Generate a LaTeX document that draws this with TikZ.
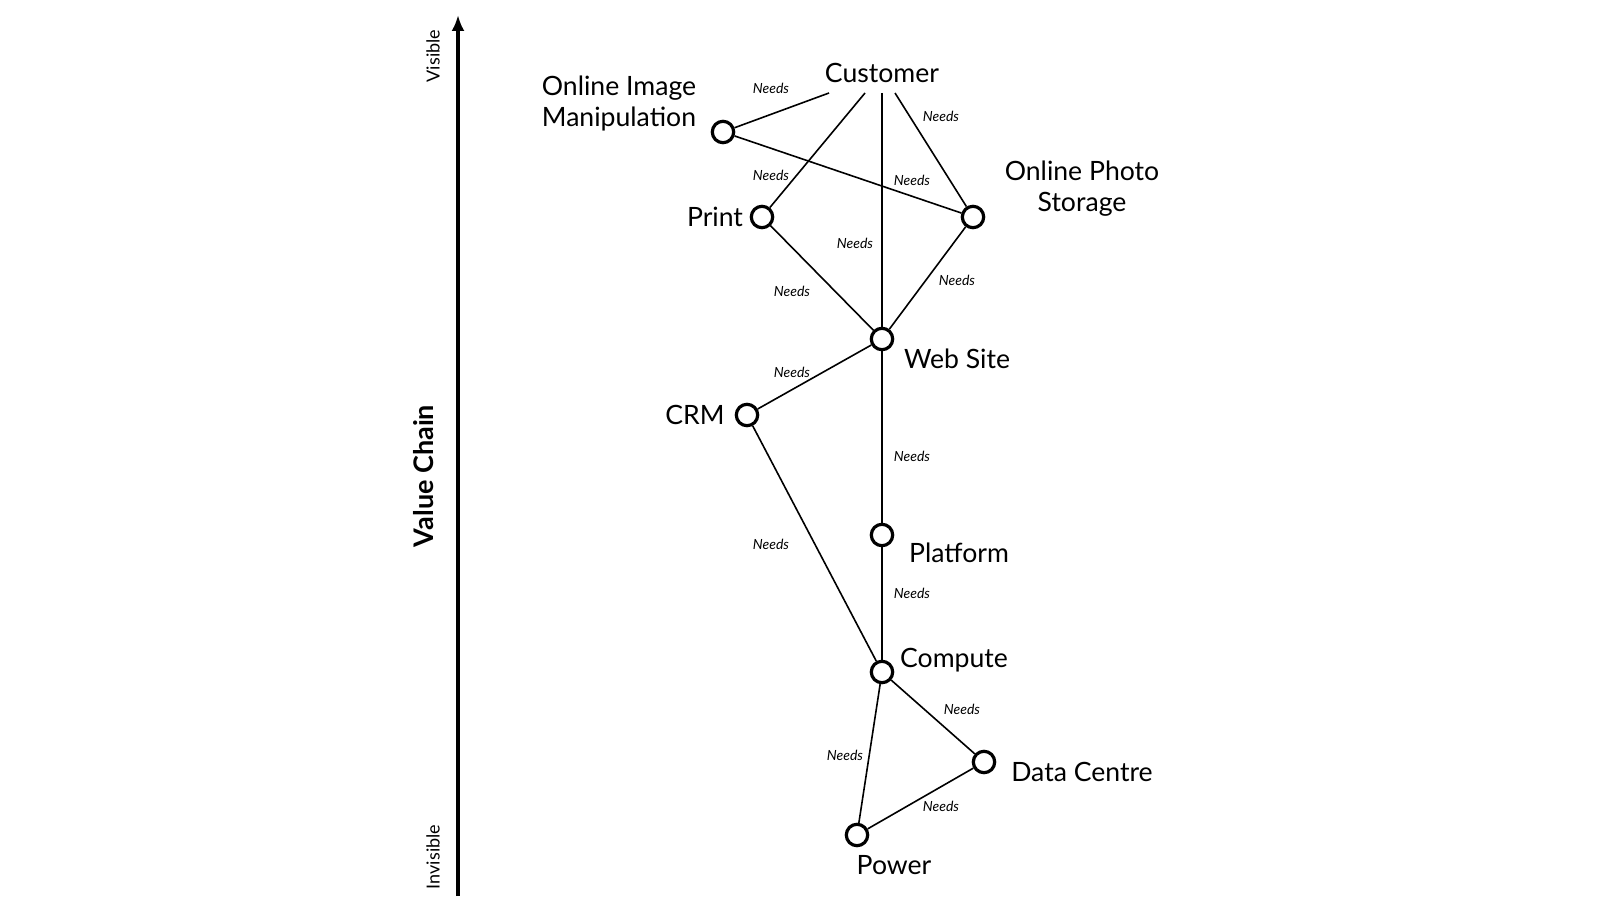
\documentclass[tikz,border=0pt]{standalone}
\usepackage{fontspec}
\setmainfont{Lato}
\usetikzlibrary{arrows.meta}
\begin{document}
\begin{tikzpicture}[x=0.5pt,y=-0.5pt,
  comp/.style={circle,draw,line width=1.6pt,fill=white,minimum size=10.7pt,inner sep=0pt},
  lbl/.style={font=\fontsize{13.3}{15.5}\selectfont,inner sep=0pt,align=center},
  needs/.style={font=\itshape\fontsize{7}{8}\selectfont,inner sep=0pt},
  link/.style={line width=0.8pt},
  axislbl/.style={font=\fontsize{9}{10}\selectfont,rotate=90,inner sep=0pt}]
\useasboundingbox (0,0) rectangle (1600,919);
% axis
\coordinate (axb) at (458,896);
\coordinate (axt) at (458,15);
\draw[line width=2pt,-{Latex[length=8pt,width=6.5pt]}] (axb) -- (axt);
\node[axislbl] (vis) at (433,56) {Visible};
\node[axislbl] (invis) at (433,857) {Invisible};
\node[axislbl,font=\bfseries\fontsize{13.5}{15}\selectfont] (vc) at (424,476) {Value Chain};
% components
\node[lbl] (cust) at (882,73) {Customer};
\node[comp] (oim) at (723,132) {};
\node[comp] (print) at (762,217) {};
\node[comp] (ops) at (973,217) {};
\node[comp] (web) at (882,339) {};
\node[comp] (crm) at (747,415) {};
\node[comp] (plat) at (882,535) {};
\node[comp] (comp) at (882,672) {};
\node[comp] (dc) at (984,762) {};
\node[comp] (pow) at (857,835) {};
% labels
\node[lbl] (loim) at (619,103) {Online Image\\Manipulation};
\node[lbl] (lprint) at (715,217) {Print};
\node[lbl] (lops) at (1082,189) {Online Photo\\Storage};
\node[lbl] (lweb) at (957,359) {Web Site};
\node[lbl] (lcrm) at (695,415) {CRM};
\node[lbl] (lplat) at (959,553) {Platform};
\node[lbl] (lcomp) at (954,660) {Compute};
\node[lbl] (ldc) at (1082,772) {Data Centre};
\node[lbl] (lpow) at (894,865) {Power};
% customer line starts
\coordinate (c1) at (829,93);
\coordinate (c2) at (865,93);
\coordinate (c3) at (882,93);
\coordinate (c4) at (895,93);
% links
\draw[link] (c1) -- (oim);
\draw[link] (c2) -- (print);
\draw[link] (c3) -- (web);
\draw[link] (c4) -- (ops);
\draw[link] (oim) -- (ops);
\draw[link] (print) -- (web);
\draw[link] (ops) -- (web);
\draw[link] (web) -- (crm);
\draw[link] (web) -- (plat);
\draw[link] (plat) -- (comp);
\draw[link] (crm) -- (comp);
\draw[link] (comp) -- (dc);
\draw[link] (comp) -- (pow);
\draw[link] (dc) -- (pow);
% needs labels
\node[needs] (n1) at (771,88) {Needs};
\node[needs] (n2) at (941,116) {Needs};
\node[needs] (n3) at (771,175) {Needs};
\node[needs] (n4) at (912,180) {Needs};
\node[needs] (n5) at (855,243) {Needs};
\node[needs] (n6) at (957,280) {Needs};
\node[needs] (n7) at (792,291) {Needs};
\node[needs] (n8) at (792,372) {Needs};
\node[needs] (n9) at (912,456) {Needs};
\node[needs] (n10) at (771,544) {Needs};
\node[needs] (n11) at (912,593) {Needs};
\node[needs] (n12) at (962,709) {Needs};
\node[needs] (n13) at (845,755) {Needs};
\node[needs] (n14) at (941,806) {Needs};
\end{tikzpicture}
\end{document}
